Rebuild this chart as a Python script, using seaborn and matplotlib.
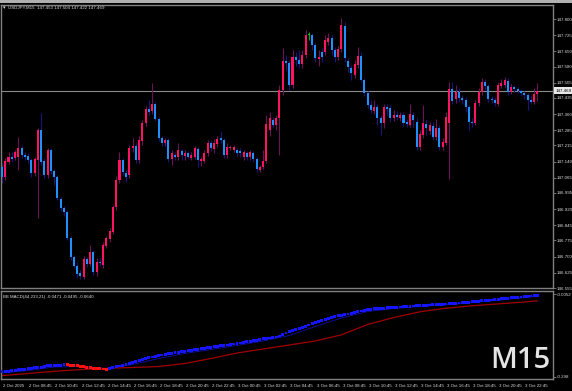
import numpy as np
import pandas as pd
import matplotlib
matplotlib.use("Agg")
import matplotlib.pyplot as plt
import matplotlib.transforms as mtrans
from matplotlib.patches import Rectangle
import seaborn as sns

# ---------------- data (USDJPY M15, 2 Oct 06:45 .. 3 Oct 23:45) ----------------
opens = [147.115,147.069,147.138,147.161,147.157,147.161,147.203,147.170,147.166,147.147,
         147.087,147.147,147.286,147.142,147.078,147.194,147.096,147.069,146.967,146.925,
         146.907,146.786,146.698,146.656,146.624,146.605,146.689,146.666,146.721,146.629,
         146.675,146.661,146.749,146.781,146.814,146.930,147.055,147.147,147.087,147.078,
         147.203,147.212,147.147,147.235,147.318,147.383,147.374,147.406,147.337,147.249,
         147.226,147.240,147.152,147.170,147.161,147.189,147.166,147.180,147.157,147.161,
         147.198,147.142,147.142,147.180,147.226,147.198,147.221,147.249,147.240,147.170,
         147.203,147.194,147.194,147.189,147.161,147.180,147.161,147.180,147.152,147.101,
         147.115,147.142,147.286,147.332,147.309,147.342,147.471,147.606,147.596,147.494,
         147.624,147.610,147.592,147.633,147.724,147.726,147.680,147.615,147.647,147.647,
         147.694,147.712,147.657,147.624,147.661,147.768,147.606,147.573,147.541,147.587,
         147.629,147.518,147.457,147.402,147.374,147.393,147.342,147.318,147.393,147.388,
         147.342,147.356,147.342,147.356,147.323,147.309,147.356,147.323,147.208,147.263,
         147.314,147.281,147.305,147.254,147.295,147.208,147.226,147.318,147.476,147.430,
         147.462,147.434,147.425,147.393,147.323,147.318,147.411,147.462,147.508,147.490,
         147.430,147.425,147.406,147.490,147.494,147.513,147.462,147.485,147.476,147.467,
         147.457,147.448,147.425,147.416,147.453]
highs = [147.133,147.157,147.185,147.185,147.194,147.254,147.217,147.185,147.180,147.157,
         147.161,147.295,147.365,147.157,147.203,147.203,147.105,147.078,146.976,146.934,
         146.916,146.795,146.707,146.675,146.638,146.703,146.698,146.754,146.731,146.694,
         146.694,146.768,146.795,146.832,146.939,147.073,147.185,147.157,147.101,147.217,
         147.249,147.226,147.258,147.332,147.397,147.425,147.504,147.416,147.346,147.258,
         147.249,147.249,147.194,147.185,147.226,147.198,147.194,147.189,147.185,147.212,
         147.208,147.161,147.194,147.240,147.240,147.244,147.258,147.281,147.249,147.226,
         147.217,147.217,147.203,147.203,147.194,147.189,147.194,147.189,147.161,147.124,
         147.194,147.356,147.369,147.346,147.356,147.494,147.666,147.633,147.610,147.657,
         147.647,147.657,147.657,147.749,147.740,147.735,147.689,147.657,147.666,147.726,
         147.735,147.726,147.670,147.675,147.805,147.786,147.619,147.587,147.610,147.670,
         147.647,147.527,147.467,147.425,147.425,147.406,147.356,147.406,147.406,147.402,
         147.379,147.374,147.369,147.369,147.337,147.406,147.369,147.342,147.286,147.402,
         147.332,147.323,147.323,147.337,147.309,147.249,147.369,147.508,147.508,147.494,
         147.481,147.448,147.439,147.402,147.342,147.425,147.481,147.527,147.522,147.499,
         147.444,147.439,147.508,147.522,147.532,147.527,147.499,147.494,147.485,147.476,
         147.467,147.457,147.444,147.481,147.504]
lows = [147.041,147.055,147.128,147.138,147.147,147.101,147.157,147.147,147.133,147.069,
        147.073,146.879,147.124,147.064,147.064,147.082,147.032,146.962,146.911,146.888,
        146.777,146.684,146.647,146.601,146.596,146.596,146.652,146.656,146.615,146.610,
        146.656,146.647,146.740,146.768,146.805,146.916,147.041,147.078,147.046,147.064,
        147.185,147.133,147.133,147.217,147.305,147.356,147.360,147.328,147.235,147.212,
        147.212,147.138,147.124,147.147,147.147,147.147,147.147,147.152,147.147,147.152,
        147.115,147.119,147.133,147.166,147.189,147.180,147.208,147.226,147.157,147.157,
        147.194,147.185,147.166,147.161,147.147,147.147,147.147,147.138,147.092,147.092,
        147.105,147.133,147.258,147.295,147.286,147.170,147.448,147.564,147.471,147.481,
        147.582,147.573,147.573,147.619,147.703,147.657,147.601,147.582,147.601,147.633,
        147.680,147.633,147.601,147.610,147.647,147.601,147.555,147.518,147.527,147.573,
        147.508,147.444,147.388,147.365,147.360,147.309,147.263,147.295,147.356,147.323,
        147.328,147.332,147.328,147.305,147.300,147.300,147.300,147.194,147.194,147.249,
        147.263,147.268,147.240,147.240,147.194,147.194,147.217,147.059,147.406,147.411,
        147.416,147.406,147.369,147.286,147.300,147.309,147.397,147.448,147.471,147.416,
        147.411,147.397,147.397,147.481,147.485,147.448,147.453,147.462,147.457,147.444,
        147.430,147.379,147.406,147.406,147.422]
closes = [147.069,147.142,147.161,147.152,147.185,147.203,147.170,147.161,147.147,147.087,
          147.152,147.286,147.138,147.078,147.194,147.096,147.069,146.971,146.925,146.907,
          146.786,146.698,146.656,146.619,146.610,146.689,146.666,146.721,146.629,146.675,
          146.670,146.754,146.786,146.818,146.930,147.055,147.147,147.092,147.069,147.203,
          147.212,147.147,147.240,147.318,147.383,147.369,147.406,147.337,147.249,147.226,
          147.240,147.152,147.180,147.161,147.194,147.170,147.180,147.161,147.170,147.203,
          147.147,147.152,147.180,147.226,147.203,147.226,147.244,147.240,147.170,147.208,
          147.208,147.208,147.180,147.180,147.185,147.161,147.185,147.152,147.105,147.115,
          147.142,147.314,147.342,147.309,147.342,147.471,147.606,147.596,147.494,147.624,
          147.610,147.592,147.633,147.726,147.724,147.680,147.619,147.624,147.624,147.703,
          147.712,147.657,147.624,147.661,147.772,147.619,147.578,147.550,147.592,147.629,
          147.518,147.457,147.402,147.379,147.393,147.342,147.318,147.393,147.383,147.342,
          147.356,147.346,147.356,147.318,147.314,147.360,147.332,147.208,147.268,147.318,
          147.295,147.309,147.254,147.295,147.208,147.231,147.346,147.476,147.420,147.462,
          147.434,147.425,147.393,147.323,147.318,147.411,147.462,147.508,147.490,147.430,
          147.425,147.411,147.494,147.504,147.518,147.462,147.485,147.476,147.467,147.457,
          147.448,147.425,147.416,147.453,147.469]

macd = [-0.279,-0.278,-0.277,-0.276,-0.275,-0.273,-0.272,-0.271,-0.269,-0.268,
        -0.266,-0.265,-0.263,-0.261,-0.259,-0.258,-0.257,-0.256,-0.2558,-0.2553,
        -0.2556,-0.2564,-0.2574,-0.2589,-0.2603,-0.2617,-0.2634,-0.2652,-0.2670,-0.2684,
        -0.2695,-0.2698,-0.2700,-0.2680,-0.2649,-0.2620,-0.2592,-0.2560,-0.2529,-0.2497,
        -0.2465,-0.2430,-0.2398,-0.2366,-0.2335,-0.2303,-0.2275,-0.2250,-0.2225,-0.2204,
        -0.2183,-0.2162,-0.2141,-0.2123,-0.2105,-0.2084,-0.2066,-0.2049,-0.2031,-0.2014,
        -0.1996,-0.1978,-0.1964,-0.1947,-0.1932,-0.1915,-0.1901,-0.1883,-0.1869,-0.1851,
        -0.1834,-0.1816,-0.1798,-0.1781,-0.1760,-0.1742,-0.1721,-0.1700,-0.1678,-0.1657,
        -0.1633,-0.1618,-0.1604,-0.1587,-0.1569,-0.1534,-0.1481,-0.1428,-0.1386,-0.1343,
        -0.1304,-0.1269,-0.1237,-0.1192,-0.1146,-0.1103,-0.1061,-0.1019,-0.0980,-0.0945,
        -0.0909,-0.0878,-0.0849,-0.0825,-0.0800,-0.0779,-0.0758,-0.0733,-0.0705,-0.0676,
        -0.0652,-0.0627,-0.0609,-0.0592,-0.0578,-0.0567,-0.0557,-0.0549,-0.0542,-0.0535,
        -0.0528,-0.0521,-0.0511,-0.0504,-0.0493,-0.0486,-0.0475,-0.0468,-0.0461,-0.0454,
        -0.0447,-0.0440,-0.0433,-0.0426,-0.0419,-0.0412,-0.0405,-0.0398,-0.0387,-0.0377,
        -0.0370,-0.0359,-0.0348,-0.0338,-0.0327,-0.0317,-0.0306,-0.0295,-0.0285,-0.0274,
        -0.0264,-0.0250,-0.0235,-0.0221,-0.0211,-0.0200,-0.0190,-0.0179,-0.0168,-0.0158,
        -0.0144,-0.0133,-0.0123,-0.0108,-0.0098]

band_bars = [0, 8, 16, 24, 32, 40, 48, 56, 64, 72, 80, 88, 96, 104, 112, 120,
             128, 136, 144, 152, 160, 164]
upper_band = [-0.2839,-0.2751,-0.2627,-0.2610,-0.2680,-0.2539,-0.2328,-0.2151,-0.2010,-0.1869,
              -0.1710,-0.1516,-0.1199,-0.0899,-0.0669,-0.0564,-0.0493,-0.0433,-0.0355,-0.0271,
              -0.0179,-0.0133]
lower_band = [-0.2931,-0.2857,-0.2779,-0.2719,-0.2673,-0.2645,-0.2610,-0.2504,-0.2328,-0.2134,
              -0.1992,-0.1851,-0.1710,-0.1491,-0.1128,-0.0881,-0.0680,-0.0553,-0.0468,-0.0401,
              -0.0334,-0.0292]

time_tick_bars = [0, 8, 16, 24, 32, 40, 48, 56, 64, 72, 80, 88, 96, 104, 112, 120,
                  128, 136, 144, 152, 160]
time_labels = ["2 Oct 2025", "2 Oct 08:45", "2 Oct 10:45", "2 Oct 12:45", "2 Oct 14:45",
               "2 Oct 16:45", "2 Oct 18:45", "2 Oct 20:45", "2 Oct 22:45", "3 Oct 00:45",
               "3 Oct 02:45", "3 Oct 04:45", "3 Oct 06:45", "3 Oct 08:45", "3 Oct 10:45",
               "3 Oct 12:45", "3 Oct 14:45", "3 Oct 16:45", "3 Oct 18:45", "3 Oct 20:45",
               "3 Oct 22:45"]
price_ticks = [147.800, 147.725, 147.650, 147.580, 147.505, 147.435, 147.360, 147.285,
               147.215, 147.140, 147.065, 146.995, 146.920, 146.845, 146.775, 146.700,
               146.625, 146.555]
current_price = 147.469
macd_ticks = [-0.0052, -0.298]
macd_tick_labels = ["-0.0052", "-0.298"]

# ---------------- style ----------------
sns.set_style("dark", {"axes.facecolor": "black", "figure.facecolor": "black"})
SMALL = ["Liberation Sans", "DejaVu Sans"]
plt.rcParams["font.family"] = SMALL
FS = 3.2
TXT = "#dcdcdc"
GRID = "#808080"
BULL, BEAR = "#ff1464", "#1e90ff"
BULL_W, BEAR_W = "#6a1458", "#16167e"

W, H = 572, 391
fig = plt.figure(figsize=(W / 100, H / 100), dpi=100, facecolor="black")


def box(x0, y0, x1, y1):
    return [x0 / W, 1 - y1 / H, (x1 - x0) / W, (y1 - y0) / H]


ax = fig.add_axes(box(1, 5, 553, 288))
ax2 = fig.add_axes(box(1, 291, 553, 379), sharex=ax)

df = pd.DataFrame({"o": opens, "h": highs, "l": lows, "c": closes})
df["i"] = np.arange(len(df))

# wicks
for row in df.itertuples():
    if row.c > row.o:
        wc = BULL_W
    elif row.c < row.o:
        wc = BEAR_W
    else:
        wc = "#00b000"
    ax.vlines(row.i, row.l, row.h, color=wc, lw=0.8, zorder=2)
# bodies
px = 1.31 / 283.0
for row in df.itertuples():
    if row.c > row.o:
        bc = BULL
    elif row.c < row.o:
        bc = BEAR
    else:
        bc = "#00d000"
    hgt = max(abs(row.c - row.o), px)
    ax.bar(row.i, hgt, bottom=min(row.o, row.c), width=0.62, color=bc,
           linewidth=0, zorder=3)

ax.axhline(current_price, color="#8a8a8a", lw=0.8, zorder=1)
ax.set_xlim(-0.3, 168.8)
ax.set_ylim(146.555, 147.865)
ax.yaxis.tick_right()
ax.set_yticks(price_ticks)
ax.set_yticklabels([f"{p:.3f}" for p in price_ticks])
ax.tick_params(axis="y", colors=GRID, labelcolor=TXT, labelsize=FS, length=2,
               width=0.6, pad=0.6)
ax.tick_params(axis="x", bottom=False, labelbottom=False)
ax.grid(False)
for s in ax.spines.values():
    s.set_color(GRID)
    s.set_linewidth(1.0)

# current price label
tr = mtrans.blended_transform_factory(ax.transAxes, ax.transData)
ax.text(1.0045, current_price, f"{current_price:.3f}", transform=tr, ha="left", va="center",
        fontsize=FS, color="black", clip_on=False,
        bbox=dict(boxstyle="square,pad=0.3", fc="#e8e8e8", ec="#e8e8e8", lw=0))

# ---------------- MACD panel ----------------
mdf = pd.DataFrame({"i": np.arange(len(macd)), "v": macd})
mdf["dir"] = np.where(mdf["v"].diff().fillna(1) < 0, "down", "up")
bdf = pd.DataFrame({"i": band_bars, "up": upper_band, "lo": lower_band})
sns.lineplot(data=bdf, x="i", y="lo", ax=ax2, color="#a00000", lw=0.9, zorder=2)
sns.lineplot(data=bdf, x="i", y="up", ax=ax2, color="#1010b0", lw=0.6, zorder=2)
sns.scatterplot(data=mdf, x="i", y="v", hue="dir", palette={"up": "#1414ff", "down": "#ff1010"},
                marker="s", s=4.5, linewidth=0, legend=False, ax=ax2, zorder=3)
ax2.set_ylim(-0.3051, 0.0054)
ax2.yaxis.tick_right()
ax2.set_yticks(macd_ticks)
ax2.set_yticklabels(macd_tick_labels)
ax2.tick_params(axis="y", colors=GRID, labelcolor=TXT, labelsize=FS, length=2,
                width=0.6, pad=0.6)
ax2.set_xticks(time_tick_bars)
ax2.set_xticklabels(time_labels, ha="left")
ax2.tick_params(axis="x", colors=GRID, labelcolor=TXT, labelsize=FS, length=3,
                width=0.6, pad=0.8, direction="out")
ax2.set_xlabel("")
ax2.set_ylabel("")
ax2.grid(False)
for s in ax2.spines.values():
    s.set_color(GRID)
    s.set_linewidth(1.0)
for lab in ax2.get_xticklabels():
    lab.set_transform(lab.get_transform() + mtrans.ScaledTranslation(1.2 / 100, 0, fig.dpi_scale_trans))

# ---------------- texts ----------------
fig.patches.append(Rectangle((0, 1 - 3 / H), 1, 3 / H, transform=fig.transFigure,
                             facecolor="#b0b0b0", edgecolor="none", zorder=0))
fig.text(3 / W, 1 - 8 / H, "\u25BE", fontsize=3.6, color=TXT, va="center", ha="left",
         family=["DejaVu Sans"])
fig.text(8 / W, 1 - 8 / H, "USDJPY,M15  147.453 147.504 147.422 147.469", fontsize=FS,
         color=TXT, va="center", ha="left")
fig.text(3 / W, 1 - 297 / H, "BB MACD(44,233,21) -0.0471 -0.0495 -0.0640", fontsize=FS,
         color=TXT, va="center", ha="left")
fig.text(550 / W, 1 - 368 / H, "M15", fontsize=21, color="#e4e4e4", ha="right",
         va="baseline", family=["Open Sans", "DejaVu Sans"], weight="semibold")

fig.savefig("out.png", dpi=100, facecolor="black")
